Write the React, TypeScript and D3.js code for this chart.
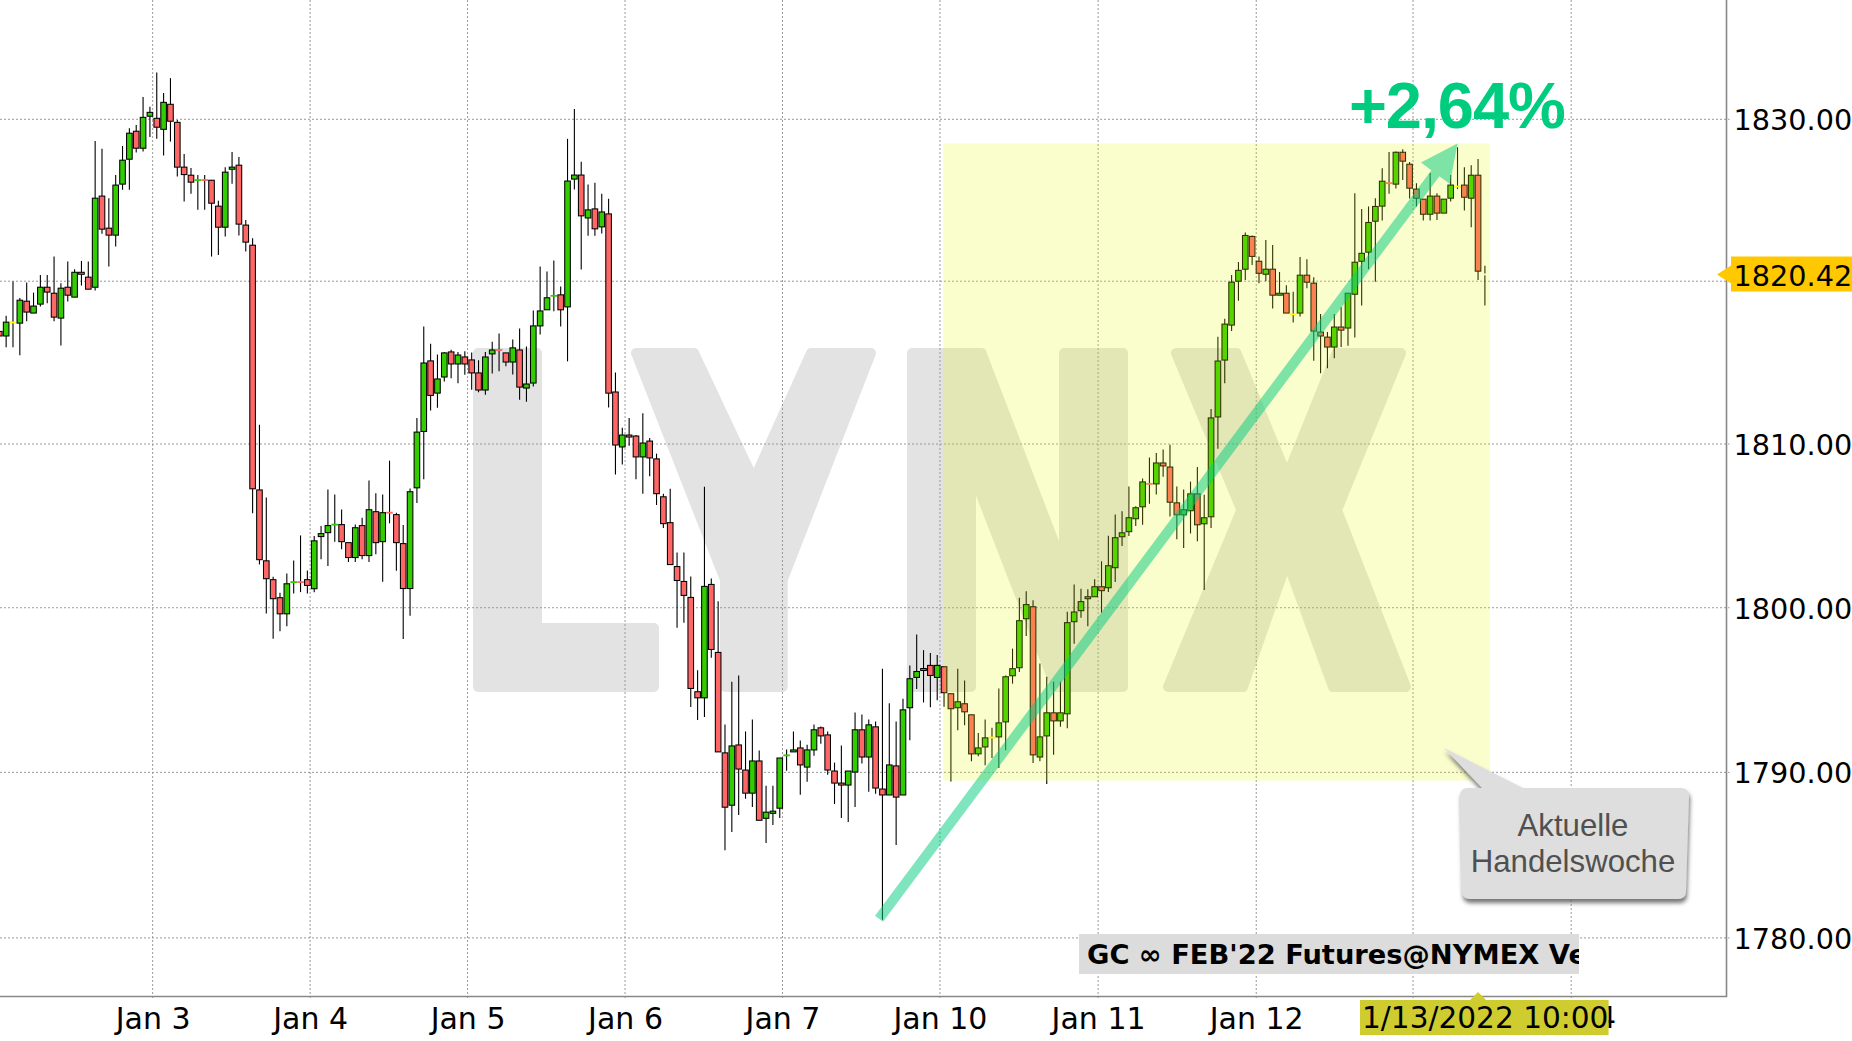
import { useEffect, useRef } from "react"
import * as d3 from "d3"

const opens = [
  1816.91,1816.63,1817.46,1817.42,1818.77,1818.04,1818.59,1819.63,1819.26,1817.73,
  1819.63,1819.02,1820.55,1820.25,1819.63,1825.25,1823.27,1822.84,1825.99,1827.53,
  1829.26,1828.21,1830.19,1830.06,1829.38,1830.93,1829.81,1827.04,1826.54,1826.20,
  1826.24,1826.23,1824.63,1823.33,1826.91,1827.16,1823.46,1822.22,1807.19,1802.86,
  1801.71,1800.61,1799.63,1801.52,1801.56,1801.71,1801.16,1804.34,1804.58,1805.03,
  1805.07,1803.97,1803.06,1805.01,1803.18,1805.86,1804.03,1805.80,1805.68,1803.91,
  1801.17,1807.32,1810.77,1815.10,1813.12,1814.11,1815.65,1814.91,1815.34,1815.16,
  1814.36,1813.31,1815.53,1815.77,1815.59,1815.03,1815.77,1813.43,1813.74,1817.25,
  1818.24,1819.06,1819.16,1818.42,1826.30,1826.55,1823.90,1824.46,1823.35,1824.15,
  1813.19,1809.82,1810.55,1810.49,1809.21,1810.18,1809.09,1806.77,1805.19,1802.51,
  1801.60,1800.63,1794.89,1794.52,1801.42,1797.28,1791.18,1788.01,1791.66,1790.14,
  1788.74,1790.69,1787.22,1787.52,1787.83,1790.99,1791.24,1791.48,1790.32,1791.36,
  1792.70,1792.27,1790.08,1789.35,1789.23,1790.02,1792.58,1790.93,1792.76,1788.99,
  1788.63,1790.39,1788.63,1793.92,1795.76,1796.18,1796.49,1795.76,1796.41,1794.77,
  1793.92,1794.16,1793.49,1791.12,1791.54,1792.11,1792.15,1793.06,1795.86,1796.35,
  1799.33,1800.06,1790.93,1792.21,1793.61,1793.12,1793.55,1799.15,1799.82,1800.55,
  1800.67,1801.28,1801.22,1802.44,1804.33,1804.64,1805.43,1806.16,1807.56,1807.56,
  1808.84,1808.59,1806.40,1805.67,1805.92,1806.95,1805.12,1805.55,1811.66,1815.15,
  1817.30,1820.00,1820.74,1822.76,1821.23,1820.43,1820.74,1819.14,1819.26,1817.96,
  1818.04,1820.37,1819.88,1816.87,1816.56,1815.95,1817.18,1817.12,1819.20,1821.23,
  1821.79,1823.70,1824.63,1826.05,1825.99,1827.96,1827.22,1825.68,1825.06,1824.13,
  1825.25,1824.20,1825.12,1825.84,1825.93,1825.12,1826.54,1820.42,
]

const closes = [
  1816.63,1817.48,1817.46,1818.83,1818.10,1818.47,1819.63,1819.33,1817.79,1819.57,
  1819.14,1820.55,1820.43,1819.51,1825.12,1823.21,1822.84,1825.93,1827.47,1829.14,
  1828.21,1830.12,1830.43,1829.51,1831.05,1829.88,1827.04,1826.58,1826.11,1826.24,
  1826.20,1824.81,1823.33,1826.73,1827.04,1823.52,1822.41,1807.26,1802.93,1801.77,
  1800.55,1799.63,1801.46,1801.56,1801.52,1801.36,1804.08,1804.52,1805.01,1805.07,
  1804.03,1803.06,1804.88,1803.18,1805.98,1803.97,1805.80,1805.76,1803.97,1801.17,
  1807.08,1810.73,1814.97,1812.98,1813.99,1815.59,1814.91,1815.46,1814.91,1814.36,
  1813.31,1815.34,1815.77,1815.73,1815.03,1815.90,1813.49,1813.68,1817.25,1818.17,
  1818.98,1819.10,1818.24,1826.18,1826.55,1824.03,1824.40,1823.23,1824.27,1813.12,
  1809.94,1810.55,1810.43,1809.21,1810.06,1809.15,1806.96,1805.13,1802.63,1801.66,
  1800.75,1795.09,1794.52,1801.30,1797.46,1791.24,1787.89,1791.60,1790.20,1788.74,
  1790.69,1787.10,1787.59,1787.65,1790.87,1791.03,1791.36,1790.45,1791.36,1792.58,
  1792.21,1790.14,1789.35,1789.23,1790.08,1792.58,1790.93,1792.88,1789.05,1788.63,
  1790.45,1788.50,1793.79,1795.68,1796.12,1796.30,1795.88,1796.49,1794.83,1793.86,
  1794.28,1793.67,1791.12,1791.48,1792.09,1792.11,1793.00,1795.80,1796.29,1799.21,
  1800.19,1791.06,1792.15,1793.61,1793.12,1793.61,1799.09,1799.74,1800.37,1800.67,
  1801.28,1801.04,1802.56,1804.27,1804.57,1805.49,1806.10,1807.68,1807.52,1808.84,
  1808.66,1806.44,1805.67,1805.98,1806.95,1805.06,1805.49,1811.60,1815.09,1817.36,
  1819.94,1820.67,1822.82,1821.53,1820.49,1820.74,1819.14,1819.26,1818.04,1817.96,
  1820.37,1819.94,1816.93,1816.63,1815.95,1817.18,1816.99,1819.26,1821.17,1821.72,
  1823.62,1824.61,1826.17,1826.01,1827.96,1827.41,1825.74,1825.12,1824.13,1825.25,
  1824.20,1825.06,1825.93,1825.84,1825.18,1826.54,1820.62,1820.42,
]

const highs = [
  1817.42,1817.87,1819.98,1818.96,1819.92,1819.30,1820.39,1820.39,1821.52,1819.88,
  1821.21,1820.74,1821.25,1821.21,1828.66,1828.17,1825.12,1826.56,1828.35,1829.44,
  1829.65,1831.38,1830.78,1832.90,1831.63,1832.55,1829.96,1827.86,1826.99,1826.56,
  1826.56,1826.25,1824.96,1827.04,1827.98,1827.67,1823.78,1822.65,1811.18,1806.73,
  1801.89,1800.91,1802.09,1802.88,1804.41,1802.27,1804.37,1804.99,1807.22,1806.91,
  1806.00,1803.97,1805.07,1805.49,1807.77,1806.98,1806.91,1808.98,1805.80,1805.05,
  1807.28,1811.60,1817.21,1816.16,1815.49,1815.65,1815.79,1815.65,1815.69,1815.61,
  1815.14,1815.65,1816.27,1816.78,1815.59,1816.41,1817.09,1815.98,1818.20,1820.91,
  1820.60,1821.27,1819.67,1828.79,1830.64,1827.37,1825.96,1826.08,1825.40,1825.09,
  1814.38,1810.99,1811.60,1810.55,1811.89,1810.37,1809.41,1806.96,1807.26,1803.37,
  1803.37,1801.90,1796.19,1807.38,1801.78,1800.40,1792.90,1795.50,1795.88,1792.48,
  1793.21,1791.32,1789.19,1789.19,1790.87,1791.38,1792.48,1791.93,1791.68,1792.90,
  1792.78,1792.48,1790.59,1791.62,1790.08,1793.63,1793.51,1793.21,1793.08,1796.29,
  1794.19,1793.08,1794.47,1796.49,1798.37,1797.42,1797.24,1797.12,1796.41,1794.77,
  1796.29,1795.58,1793.49,1792.39,1793.21,1792.70,1795.09,1795.88,1797.51,1800.61,
  1801.00,1800.45,1796.61,1795.80,1795.50,1795.50,1799.76,1801.42,1801.16,1801.12,
  1801.73,1802.83,1804.39,1805.69,1805.88,1807.40,1806.20,1807.89,1809.17,1809.45,
  1809.66,1809.96,1807.40,1807.22,1807.70,1808.60,1806.89,1812.15,1816.58,1817.69,
  1820.39,1821.19,1823.01,1822.82,1821.53,1822.54,1822.23,1820.57,1819.75,1819.35,
  1821.49,1821.35,1820.25,1817.98,1816.87,1817.98,1818.40,1818.34,1825.43,1824.46,
  1824.61,1825.12,1826.97,1827.98,1828.00,1828.15,1827.35,1826.05,1825.06,1826.67,
  1825.43,1825.06,1826.56,1828.27,1827.04,1827.16,1827.55,1820.95,
]

const lows = [
  1815.99,1815.93,1815.93,1815.44,1817.53,1818.04,1818.45,1818.65,1817.53,1816.05,
  1818.75,1819.02,1819.73,1819.51,1819.43,1822.92,1820.90,1822.14,1825.64,1825.64,
  1827.94,1828.00,1828.91,1828.79,1827.76,1828.62,1826.46,1824.92,1825.39,1824.40,
  1824.40,1821.52,1821.62,1822.76,1826.01,1822.82,1821.83,1805.77,1802.64,1799.65,
  1798.11,1798.57,1798.88,1800.87,1800.95,1800.87,1800.95,1802.96,1802.55,1804.03,
  1803.56,1802.79,1802.79,1802.96,1802.79,1803.26,1801.58,1805.15,1802.25,1798.10,
  1799.51,1806.39,1807.85,1812.05,1812.23,1813.84,1814.03,1813.72,1814.25,1813.33,
  1813.17,1813.02,1814.32,1814.46,1814.77,1814.27,1812.71,1812.59,1813.53,1816.72,
  1818.24,1818.15,1817.21,1815.07,1825.65,1820.72,1822.81,1822.81,1822.94,1812.24,
  1808.13,1808.74,1809.90,1807.85,1806.96,1808.03,1806.27,1804.87,1802.63,1798.78,
  1799.08,1793.97,1793.17,1793.35,1796.95,1791.24,1785.29,1786.39,1787.42,1788.40,
  1787.91,1787.10,1785.72,1786.81,1787.24,1790.10,1791.24,1788.64,1789.43,1791.01,
  1791.74,1789.86,1788.09,1787.24,1787.00,1787.91,1790.53,1788.82,1788.70,1781.10,
  1788.63,1785.60,1788.63,1791.95,1795.05,1794.24,1793.95,1794.38,1793.98,1789.45,
  1792.56,1792.86,1790.67,1790.97,1790.43,1790.87,1790.26,1791.34,1795.38,1796.09,
  1798.28,1790.57,1790.67,1789.29,1791.06,1792.76,1792.68,1797.81,1799.39,1798.88,
  1800.67,1799.70,1800.96,1801.57,1803.76,1804.37,1804.98,1805.06,1806.34,1806.91,
  1807.99,1805.56,1804.17,1803.64,1804.53,1804.05,1801.08,1804.86,1809.71,1813.72,
  1816.93,1818.79,1820.08,1821.00,1819.88,1820.00,1818.32,1819.14,1818.04,1817.46,
  1817.83,1819.57,1815.11,1814.34,1814.64,1815.26,1815.95,1816.03,1816.54,1818.51,
  1820.74,1819.96,1823.74,1825.39,1825.72,1826.25,1825.10,1824.61,1823.74,1823.74,
  1823.78,1824.20,1824.92,1825.68,1824.36,1823.33,1820.08,1818.51,
]

const priceTicks = [1780, 1790, 1800, 1810, 1820, 1830]
// 1820.00 sits under the last price tag
const priceLabels = [1780, 1790, 1800, 1810, 1830]
const dayLabels = ["Jan 3", "Jan 4", "Jan 5", "Jan 6", "Jan 7", "Jan 10", "Jan 11", "Jan 12"]
// candle index where each session starts, the last two are under the cursor date
const dayStarts = [22.4, 45.4, 68.4, 91.4, 114.4, 137.4, 160.5, 183.6, 206.5, 229.6]

const lastPrice = 1820.42
const cursorLabel = "1/13/2022 10:00"
const nextDayStub = "4"
const instrument = "GC ∞ FEB'22 Futures@NYMEX Ve"
const gainLabel = "+2,64%"
const noteLines = ["Aktuelle", "Handelswoche"]

// current week box and the arrow, in candle index / price
const weekBox = { from: 137.9, to: 217.7, top: 1828.5, bottom: 1789.5 }
const arrowFrom = { i: 128.5, price: 1781.15 }
const arrowTo = { i: 213, price: 1828.5 }

const watermark = [
  "M478,353 L537,353 L537,628 L654,628 L654,687 L478,687 Z",
  "M636,353 L694,353 L753.8,480 L811,353 L871,353 L782.7,580 L782.7,687 L725,687 L725,580 Z",
  "M912,353 L981.5,353 L1064,568 L1064,353 L1123,353 L1123,687 L1055.6,687 L971,469 L971,687 L912,687 Z",
  "M1176,353 L1236.5,353 L1287,476 L1336.5,353 L1401,353 L1337,510 L1406,687 L1333,687 L1287,561 L1243,687 L1168,687 L1241.4,510 Z",
]

const WIDTH = 1852
const HEIGHT = 1041
const AXIS_X = 1726.5
const AXIS_Y = 996.5
const UP = "#33cc00"
const DOWN = "#ff6666"

export default function App() {
  const svgRef = useRef<SVGSVGElement>(null)

  useEffect(() => {
    if (!svgRef.current) return
    const svg = d3.select(svgRef.current)
    svg.selectAll("*").remove()

    const x = d3.scaleLinear().domain([0, 217]).range([-0.7, 1484.9])
    const y = d3.scaleLog().domain([1780, 1830]).range([937.9, 119.3])

    const defs = svg.append("defs")
    defs.append("clipPath").attr("id", "plot").append("rect")
      .attr("width", AXIS_X).attr("height", AXIS_Y)
    defs.append("clipPath").attr("id", "tag").append("rect")
      .attr("x", 1079).attr("y", 934).attr("width", 500).attr("height", 40)
    defs.append("filter").attr("id", "shadow")
      .attr("x", "-10%").attr("y", "-10%").attr("width", "120%").attr("height", "125%")
      .append("feDropShadow")
      .attr("dx", 1).attr("dy", 4).attr("stdDeviation", 2).attr("flood-color", "#555").attr("flood-opacity", 0.8)

    svg.append("rect").attr("width", WIDTH).attr("height", HEIGHT).attr("fill", "#fff")

    svg.append("g").selectAll("path").data(watermark).join("path")
      .attr("d", (d) => d)
      .attr("fill", "#e3e3e3")
      .attr("stroke", "#e3e3e3")
      .attr("stroke-width", 10)
      .attr("stroke-linejoin", "round")

    // grid
    const grid = svg.append("g").attr("stroke", "#999").attr("stroke-width", 1).attr("stroke-dasharray", "2,2")
    grid.selectAll(".h").data(priceTicks).join("line")
      .attr("class", "h")
      .attr("x1", 0).attr("x2", AXIS_X + 3)
      .attr("y1", (d) => y(d)).attr("y2", (d) => y(d))
    grid.selectAll(".v").data(dayStarts).join("line")
      .attr("class", "v")
      .attr("x1", (d) => x(d)).attr("x2", (d) => x(d))
      .attr("y1", 0).attr("y2", AXIS_Y + 3)

    // candles
    const candles = svg.append("g").attr("clip-path", "url(#plot)")
    opens.forEach((open, i) => {
      const close = closes[i]
      const cx = x(i)
      candles.append("line")
        .attr("x1", cx).attr("x2", cx)
        .attr("y1", y(highs[i])).attr("y2", y(lows[i]))
        .attr("stroke", "#000").attr("stroke-width", 1.1)
      const top = y(Math.max(open, close))
      const h = y(Math.min(open, close)) - top
      const isLast = i === opens.length - 1
      const color = isLast ? "#fff" : close === open ? "#ffff00" : close > open ? UP : DOWN
      if (h < 1.5) {
        candles.append("rect")
          .attr("x", cx - 3.3).attr("y", top - 0.9)
          .attr("width", 6.6).attr("height", 1.8)
          .attr("fill", color)
      } else {
        candles.append("rect")
          .attr("x", cx - 2.8).attr("y", top)
          .attr("width", 5.6).attr("height", h)
          .attr("fill", color)
          .attr("stroke", "#000").attr("stroke-width", 1.05)
      }
    })

    // current week
    svg.append("rect")
      .attr("x", x(weekBox.from)).attr("y", y(weekBox.top))
      .attr("width", x(weekBox.to) - x(weekBox.from))
      .attr("height", y(weekBox.bottom) - y(weekBox.top))
      .attr("fill", "#e8f400").attr("opacity", 0.2)

    // arrow
    const ax0 = x(arrowFrom.i)
    const ay0 = y(arrowFrom.price)
    const ax1 = x(arrowTo.i)
    const ay1 = y(arrowTo.price)
    const angle = Math.atan2(ay1 - ay0, ax1 - ax0)
    const px = -Math.sin(angle)
    const py = Math.cos(angle)
    const ux = Math.cos(angle)
    const uy = Math.sin(angle)
    const headLen = 37
    const headHalf = 18
    const stem = 5
    const bx = ax1 - ux * headLen
    const by = ay1 - uy * headLen
    const arrowPts: [number, number][] = [
      [ax0 + px * stem, ay0 + py * stem],
      [bx + px * stem, by + py * stem],
      [bx + px * headHalf, by + py * headHalf],
      [ax1, ay1],
      [bx - px * headHalf, by - py * headHalf],
      [bx - px * stem, by - py * stem],
      [ax0 - px * stem, ay0 - py * stem],
    ]
    svg.append("path")
      .attr("d", d3.line()(arrowPts) + "Z")
      .attr("fill", "#00cc7f").attr("opacity", 0.5)

    svg.append("text")
      .attr("x", 1349).attr("y", 127.5)
      .attr("font-family", "Liberation Sans").attr("font-weight", "bold").attr("font-size", 65)
      .attr("letter-spacing", -1.1)
      .attr("fill", "#00cc7f")
      .text(gainLabel)

    // callout
    svg.append("path")
      .attr("d", "M1444,748 L1523,788 L1681,788 Q1689,788 1689,796 L1686,891 Q1686,899 1678,899 L1470,899 Q1462,899 1462,891 L1460,796 Q1460,788 1468,788 L1482,788 Z")
      .attr("fill", "#dedede")
      .attr("filter", "url(#shadow)")
    svg.append("g")
      .attr("font-family", "Liberation Sans").attr("font-size", 31.2).attr("fill", "#505050").attr("text-anchor", "middle")
      .selectAll("text").data(noteLines).join("text")
      .attr("x", 1573)
      .attr("y", (_, i) => 836 + i * 36)
      .text((d) => d)

    // instrument label
    svg.append("rect")
      .attr("x", 1079).attr("y", 934).attr("width", 500).attr("height", 40)
      .attr("fill", "#dcdcdc")
    svg.append("text")
      .attr("x", 1087).attr("y", 964)
      .attr("clip-path", "url(#tag)")
      .attr("font-family", "DejaVu Sans").attr("font-weight", "bold").attr("font-size", 27.3)
      .attr("fill", "#000")
      .text(instrument)

    // axes
    const yAxis = d3.axisRight(y)
      .tickValues(priceLabels)
      .tickFormat((d) => d3.format(".2f")(d as number))
      .tickSize(0)
      .tickPadding(7)
    const yg = svg.append("g").attr("transform", `translate(${AXIS_X},1.4)`).call(yAxis)
    yg.select(".domain").remove()
    yg.selectAll("text")
      .attr("font-family", "DejaVu Sans").attr("font-size", 28.7).attr("fill", "#000")

    const xAxis = d3.axisBottom(x)
      .tickValues(dayStarts.slice(0, dayLabels.length))
      .tickFormat((_, i) => dayLabels[i])
      .tickSize(0)
      .tickPadding(11)
    const xg = svg.append("g").attr("transform", `translate(0,${AXIS_Y})`).call(xAxis)
    xg.select(".domain").remove()
    xg.selectAll("text")
      .attr("font-family", "DejaVu Sans").attr("font-size", 30).attr("fill", "#000")

    svg.append("path")
      .attr("d", `M0,${AXIS_Y} L${AXIS_X},${AXIS_Y} L${AXIS_X},0`)
      .attr("fill", "none").attr("stroke", "#888").attr("stroke-width", 1.6)

    // last price tag
    const ly = y(lastPrice)
    svg.append("path")
      .attr("d", `M1717,${ly} L1731,${ly - 9} L1731,${ly - 18} L${WIDTH},${ly - 18} L${WIDTH},${ly + 17} L1731,${ly + 17} L1731,${ly + 9} Z`)
      .attr("fill", "#ffc800")
    svg.append("text")
      .attr("x", 1733.5).attr("y", ly + 1.2).attr("dy", "0.36em")
      .attr("font-family", "DejaVu Sans").attr("font-size", 28.7).attr("fill", "#000")
      .text(d3.format(".2f")(lastPrice))

    // tail of the next day's label, most of it is under the cursor date
    svg.append("text")
      .attr("x", 1597).attr("y", 1028)
      .attr("font-family", "DejaVu Sans").attr("font-size", 30).attr("fill", "#000")
      .text(nextDayStub)

    // cursor date
    const cx = x(216)
    svg.append("path")
      .attr("d", `M1360,1000 L${cx - 8},1000 L${cx},992 L${cx + 8},1000 L1608.6,1000 L1608.6,1035 L1360,1035 Z`)
      .attr("fill", "#cfcc30")
    svg.append("text")
      .attr("x", 1362).attr("y", 1028)
      .attr("font-family", "DejaVu Sans").attr("font-size", 29.6).attr("fill", "#000")
      .text(cursorLabel)
  }, [])

  return <svg ref={svgRef} width={WIDTH} height={HEIGHT} style={{ position: "absolute", left: 0, top: 0 }} />
}
